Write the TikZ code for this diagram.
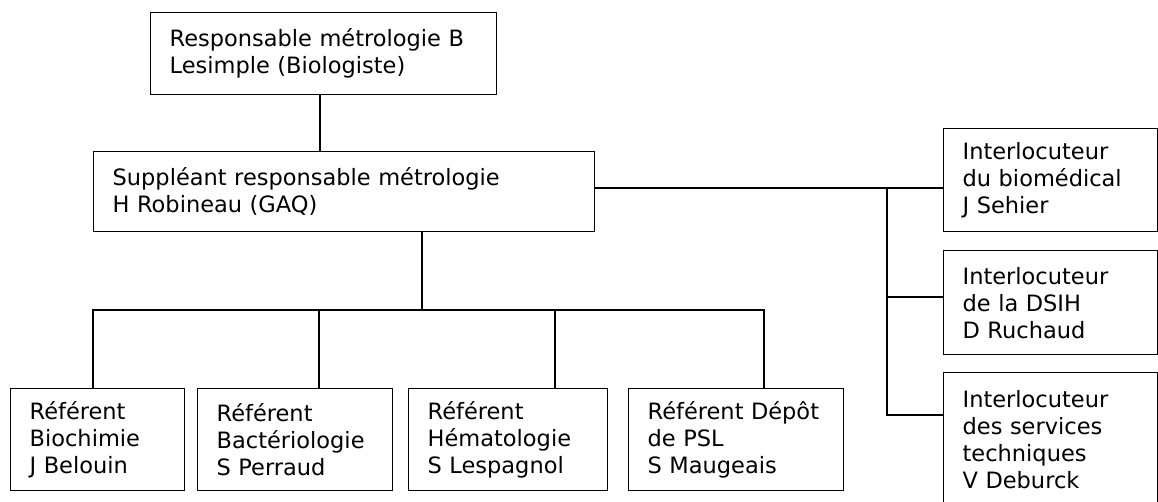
\documentclass[tikz,border=0pt]{standalone}
\usepackage{fontspec}
\setmainfont{DejaVu Sans}
\usetikzlibrary{positioning}
\begin{document}
\begin{tikzpicture}[x=1pt,y=-1pt,
    box/.style={draw,line width=1.3pt,anchor=north west,align=left,
      inner xsep=19pt,inner ysep=0pt,font=\fontsize{22.5}{27}\selectfont},
    link/.style={line width=1.3pt,line cap=rect}]
  \useasboundingbox (0,0) rectangle (1158,501);
  \clip (0,0) rectangle (1158,501);
  % hierarchy
  \node[box,text width=308pt,minimum height=82pt] (resp) at (150,12)
    {Responsable métrologie B\\Lesimple (Biologiste)};
  \node[box,text width=463pt,minimum height=80pt] (sup) at (93,151)
    {Suppléant responsable métrologie\\H Robineau (GAQ)};
  % referents
  \node[box,text width=136pt,minimum height=102pt] (b1) at (10,388)
    {Référent\\Biochimie\\J Belouin};
  \node[box,text width=157pt,minimum height=102pt] (b2) at (197,388)
    {Référent\\Bactériologie\\S Perraud};
  \node[box,text width=161pt,minimum height=102pt] (b3) at (408,388)
    {Référent\\Hématologie\\S Lespagnol};
  \node[box,text width=177pt,minimum height=102pt] (b4) at (628,388)
    {Référent Dépôt\\de PSL\\S Maugeais};
  % interlocuteurs
  \node[box,text width=176pt,minimum height=103pt] (r1) at (943,128)
    {Interlocuteur\\du biomédical\\J Sehier};
  \node[box,text width=176pt,minimum height=104pt] (r2) at (943,250)
    {Interlocuteur\\de la DSIH\\D Ruchaud};
  \node[box,text width=176pt,minimum height=134pt] (r3) at (943,372)
    {Interlocuteur\\des services\\techniques\\V Deburck};
  % connectors
  \coordinate (jtop) at (320,0);
  \draw[link] (resp.south -| jtop) -- (sup.north -| jtop);
  \coordinate (jsup) at (422,310);
  \draw[link] (sup.south -| jsup) -- (jsup);
  \foreach \n/\x in {b1/93,b2/319,b3/555,b4/764}{
    \coordinate (j\n) at (\x,310);
    \draw[link] (j\n) -- (j\n |- \n.north);
  }
  \draw[link] (jb1) -- (jb4);
  \coordinate (t1) at (887,188);
  \coordinate (t2) at (887,297);
  \coordinate (t3) at (887,415);
  \draw[link] (sup.east |- t1) -- (r1.west |- t1);
  \draw[link] (t1) -- (t3) -- (t3 -| r3.west);
  \draw[link] (t2) -- (t2 -| r2.west);
\end{tikzpicture}
\end{document}
